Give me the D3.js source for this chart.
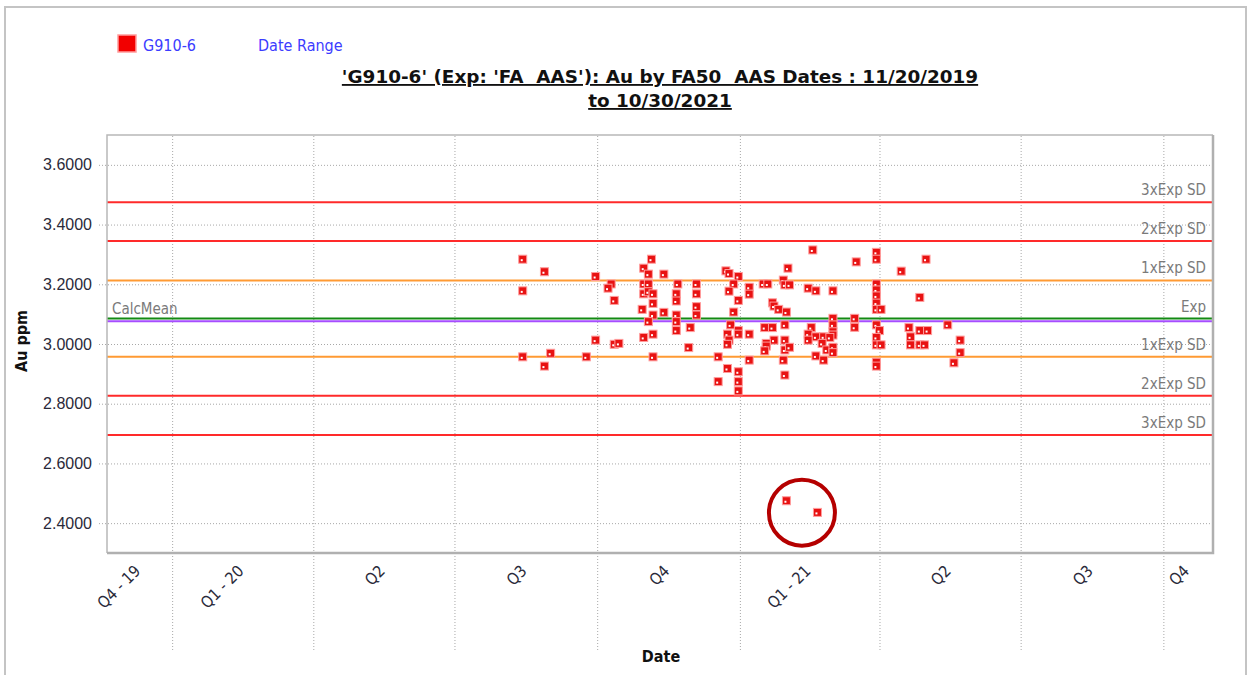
<!DOCTYPE html>
<html>
<head>
<meta charset="utf-8">
<script src="https://cdn.jsdelivr.net/npm/d3@7"></script>
<style>
  body { margin: 0; background: #fff; }
  svg { font-family: "DejaVu Sans Condensed", "DejaVu Sans", sans-serif; }
</style>
</head>
<body>
<div id="chart"></div>
<script>
// sample dates and Au values
const sampleDates = [
  "2020-08-14","2020-08-28","2020-09-30","2020-08-14","2020-11-05","2020-10-31","2020-11-03","2020-11-13",
  "2020-10-10","2020-10-08","2020-10-31","2020-11-03","2020-11-22","2020-12-04","2020-10-31","2020-11-03",
  "2020-11-06","2020-11-21","2020-12-04","2020-10-12","2020-11-06","2020-11-21","2020-12-04","2020-10-30",
  "2020-11-13","2020-11-06","2020-11-21","2020-12-04","2020-11-03","2020-11-21","2020-11-21","2020-11-30",
  "2020-11-06","2020-10-31","2020-09-30","2020-10-12","2020-10-15","2020-11-29","2020-08-14","2020-09-01",
  "2020-09-24","2020-11-06","2020-12-18","2020-08-28","2020-12-18","2021-02-17","2021-03-30","2021-03-30",
  "2021-03-17","2021-05-01","2020-12-23","2020-12-25","2020-12-31","2021-02-01","2021-04-15","2021-01-29",
  "2020-12-28","2021-01-16","2021-01-19","2021-01-30","2021-02-02","2021-03-30","2020-12-25","2021-01-07",
  "2021-01-07","2021-02-14","2021-02-19","2021-03-02","2021-03-30","2021-03-30","2021-03-30","2021-04-27",
  "2020-12-31","2021-01-22","2021-01-23","2021-01-26","2021-01-31","2020-12-28","2021-03-30","2021-04-02",
  "2021-03-02","2021-03-16","2020-12-26","2021-01-30","2021-03-02","2021-03-16","2021-03-30","2021-05-15",
  "2021-01-17","2021-01-22","2021-02-16","2021-04-20","2021-04-27","2021-05-02","2020-12-24","2020-12-31",
  "2020-12-31","2021-01-07","2021-02-14","2021-03-02","2021-03-02","2021-04-01","2021-03-30","2021-02-19",
  "2021-02-24","2021-02-28","2021-04-21","2021-05-23","2020-12-25","2020-12-24","2021-01-23","2021-01-30",
  "2021-02-14","2021-01-18","2021-01-18","2021-02-23","2021-03-30","2021-04-02","2021-04-21","2021-04-27",
  "2021-04-30","2021-01-17","2021-01-30","2021-02-02","2021-02-26","2021-03-02","2021-03-02","2021-05-23",
  "2021-01-07","2021-01-29","2021-02-19","2021-02-24","2021-03-30","2021-03-30","2021-05-19","2020-12-24",
  "2021-01-30","2020-12-31","2020-12-31","2020-12-31","2021-01-31","2021-02-20"
];
const auValues = [
  3.284,3.242,3.226,3.178,3.284,3.254,3.234,3.234,
  3.201,3.187,3.201,3.201,3.201,3.201,3.168,3.175,
  3.168,3.168,3.168,3.146,3.136,3.144,3.125,3.116,
  3.106,3.097,3.097,3.097,3.075,3.075,3.045,3.055,
  3.033,3.022,3.013,2.999,3.002,2.988,2.957,2.969,
  2.957,2.957,2.957,2.926,2.874,3.315,3.307,3.284,
  3.275,3.284,3.245,3.236,3.226,3.254,3.244,3.214,
  3.201,3.201,3.201,3.198,3.198,3.201,3.177,3.190,
  3.167,3.187,3.178,3.178,3.181,3.161,3.137,3.156,
  3.146,3.138,3.127,3.116,3.107,3.107,3.116,3.116,
  3.086,3.086,3.064,3.064,3.064,3.056,3.064,3.064,
  3.055,3.055,3.055,3.055,3.045,3.045,3.033,3.045,
  3.033,3.033,3.033,3.041,3.030,3.045,3.022,3.024,
  3.024,3.022,3.024,3.013,3.013,2.999,3.013,3.013,
  3.013,3.002,2.993,3.002,2.997,2.997,2.997,2.997,
  2.997,2.977,2.980,2.989,2.980,2.989,2.971,2.971,
  2.946,2.946,2.960,2.946,2.939,2.926,2.937,2.918,
  2.896,2.907,2.874,2.843,2.475,2.436
];

// control lines (expected value +/- 1,2,3 SD) and the calculated mean
const controlValues = [3.475, 3.345, 3.213, 3.085, 2.957, 2.827, 2.695];
const controlLabels = ["3xExp SD", "2xExp SD", "1xExp SD", "Exp", "1xExp SD", "2xExp SD", "3xExp SD"];
const calcMean = 3.076;

const yTicks = [2.4, 2.6, 2.8, 3.0, 3.2, 3.4, 3.6];
const quarterLabels = ["Q4 - 19", "Q1 - 20", "Q2", "Q3", "Q4", "Q1 - 21", "Q2", "Q3", "Q4"];
const dateRange = ["2019-11-20", "2021-11-02"];

// outlier annotation (circle around the two low results)
const circleDate = "2021-02-10";
const circleValue = 2.435;

const parse = d3.timeParse("%Y-%m-%d");
const data = sampleDates.map((d, i) => ({ date: parse(d), value: auValues[i] }));

const W = 1252, H = 675;
const plot = { left: 107, right: 1213, top: 135, bottom: 553 };

const svg = d3.select("#chart").append("svg")
  .attr("width", W).attr("height", H);

svg.append("rect").attr("width", W).attr("height", H).attr("fill", "#fff");

// outer frame
svg.append("rect")
  .attr("x", 5).attr("y", 7).attr("width", 1241).attr("height", 700)
  .attr("fill", "none").attr("stroke", "#c4c4c4").attr("stroke-width", 2);

const x = d3.scaleTime()
  .domain(dateRange.map(parse))
  .range([plot.left, plot.right]);

const y = d3.scaleLinear()
  .domain([2.3, 3.7])
  .range([plot.bottom, plot.top]);

// vertical grid at quarter starts (running down into the label area)
const quarterTicks = x.ticks(d3.timeMonth.every(3));
const xGrid = svg.append("g")
  .attr("transform", "translate(0,650)")
  .call(d3.axisBottom(x).tickValues(quarterTicks).tickSize(-(650 - plot.top)).tickFormat(""));
xGrid.select(".domain").remove();
xGrid.selectAll("line")
  .attr("stroke", "#a8a8a8").attr("stroke-dasharray", "1,2");

// horizontal grid + tick labels
const yAxis = svg.append("g")
  .attr("transform", "translate(" + plot.right + ",0)")
  .call(d3.axisLeft(y).tickValues(yTicks).tickSize(plot.right - plot.left + 8)
    .tickPadding(7).tickFormat(d3.format(".4f")));
yAxis.select(".domain").remove();
yAxis.selectAll("line")
  .attr("stroke", "#a8a8a8").attr("stroke-dasharray", "1,2");
yAxis.selectAll("text")
  .style("font-size", "16px").attr("fill", "#2a2a3a");

// quarter labels at the middle of each visible quarter
const bounds = [x.domain()[0]].concat(quarterTicks, [x.domain()[1]]);
const segs = d3.pairs(bounds).map((p, i) => ({ label: quarterLabels[i], mid: (x(p[0]) + x(p[1])) / 2 }));
svg.selectAll(".qlabel")
  .data(segs)
  .enter()
  .append("text")
  .attr("class", "qlabel")
  .attr("transform", d => "translate(" + (d.mid + 2) + ",572) rotate(-45)")
  .attr("text-anchor", "end")
  .style("font-size", "16px")
  .style("white-space", "pre")
  .attr("fill", "#2a2a3a")
  .text(d => d.label);

// control lines
const lineColors = ["#ff2a2a", "#ff2a2a", "#ff9a33", "#138a13", "#ff9a33", "#ff2a2a", "#ff2a2a"];
svg.selectAll(".ctrl")
  .data(controlValues)
  .enter()
  .append("line")
  .attr("class", "ctrl")
  .attr("x1", plot.left).attr("x2", plot.right)
  .attr("y1", d => y(d)).attr("y2", d => y(d))
  .attr("stroke", (d, i) => lineColors[i])
  .attr("stroke-width", 2);

svg.append("line")
  .attr("x1", plot.left).attr("x2", plot.right)
  .attr("y1", y(calcMean)).attr("y2", y(calcMean))
  .attr("stroke", "#a64dff").attr("stroke-width", 2);

svg.selectAll(".ctrlLabel")
  .data(controlValues)
  .enter()
  .append("text")
  .attr("class", "ctrlLabel")
  .attr("x", 1206)
  .attr("y", d => y(d) - 7)
  .attr("text-anchor", "end")
  .style("font-size", "15px")
  .attr("fill", "#7a7a7a")
  .text((d, i) => controlLabels[i]);

svg.append("text")
  .attr("x", 112).attr("y", y(calcMean) - 7)
  .style("font-size", "15px")
  .attr("fill", "#7a7a7a")
  .text("CalcMean");

// plot frame
svg.append("path")
  .attr("d", "M" + plot.left + "," + plot.bottom + "V" + plot.top + "H" + plot.right)
  .attr("fill", "none").attr("stroke", "#b8b8b8").attr("stroke-width", 1.5);
svg.append("path")
  .attr("d", "M" + plot.left + "," + plot.bottom + "H" + plot.right + "V" + plot.top)
  .attr("fill", "none").attr("stroke", "#b0b0b0").attr("stroke-width", 2.5);

// data points
const pts = svg.selectAll(".pt")
  .data(data)
  .enter()
  .append("g")
  .attr("class", "pt")
  .attr("transform", d => "translate(" + x(d.date) + "," + y(d.value) + ")");
pts.append("rect")
  .attr("x", -4).attr("y", -4).attr("width", 8).attr("height", 8)
  .attr("fill", "#e81212").attr("stroke", "#ff9c9c").attr("stroke-width", 1);
pts.append("rect")
  .attr("x", -2).attr("y", 0).attr("width", 2).attr("height", 2)
  .attr("fill", "#fff");

// annotation circle
svg.append("circle")
  .attr("cx", x(parse(circleDate))).attr("cy", y(circleValue))
  .attr("r", 33)
  .attr("fill", "none").attr("stroke", "#b50000").attr("stroke-width", 4);

// legend
svg.append("rect")
  .attr("x", 118).attr("y", 35).attr("width", 18).attr("height", 17)
  .attr("fill", "#f20000").attr("stroke", "#ff9c9c").attr("stroke-width", 1.5);
svg.append("text")
  .attr("x", 143).attr("y", 51)
  .style("font-size", "16px").attr("fill", "#3c3cff")
  .text("G910-6");
svg.append("text")
  .attr("x", 258).attr("y", 51)
  .style("font-size", "16px").attr("fill", "#3c3cff")
  .text("Date Range");

// title
const titleLines = ["'G910-6' (Exp: 'FA  AAS'): Au by FA50  AAS Dates : 11/20/2019", "to 10/30/2021"];
svg.selectAll(".title")
  .data(titleLines)
  .enter()
  .append("text")
  .attr("class", "title")
  .attr("x", 660)
  .attr("y", (d, i) => 83 + i * 24)
  .attr("text-anchor", "middle")
  .style("font-family", "'DejaVu Sans', sans-serif")
  .style("font-size", "18.4px")
  .style("font-weight", "bold")
  .style("text-decoration", "underline")
  .style("white-space", "pre")
  .attr("fill", "#111")
  .text(d => d);

// axis titles
svg.append("text")
  .attr("transform", "translate(27,341) rotate(-90)")
  .attr("text-anchor", "middle")
  .style("font-size", "16px").style("font-weight", "bold")
  .attr("fill", "#111")
  .text("Au ppm");

svg.append("text")
  .attr("x", 661).attr("y", 662)
  .attr("text-anchor", "middle")
  .style("font-size", "16px").style("font-weight", "bold")
  .attr("fill", "#111")
  .text("Date");
</script>
</body>
</html>
